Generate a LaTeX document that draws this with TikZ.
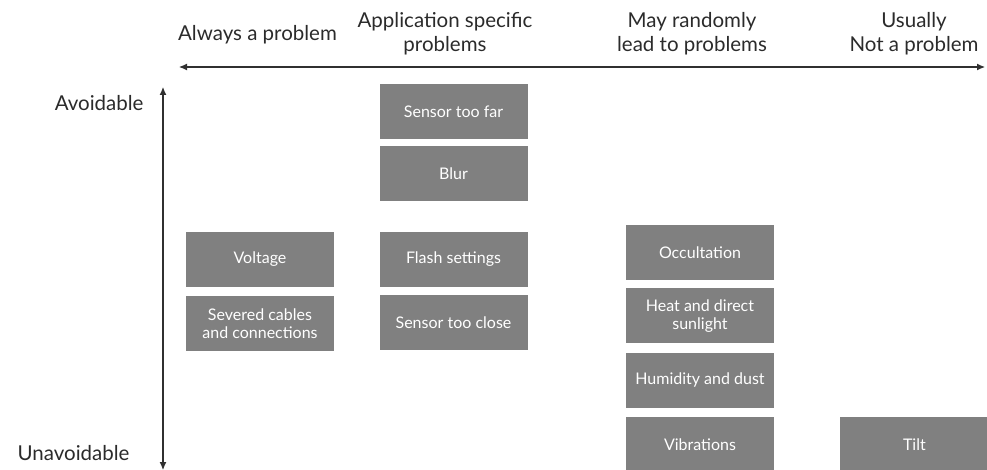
\documentclass[tikz,border=0pt]{standalone}
\usepackage{fontspec}
\setmainfont{Lato}
\usetikzlibrary{arrows.meta, positioning}
\definecolor{BoxGray}{HTML}{808080}
\definecolor{AxisGray}{HTML}{303030}
\definecolor{TextGray}{HTML}{2B2B2B}

\begin{document}
\begin{tikzpicture}[
    % scale: 1pt per pixel, y going down
    x=1pt, y=-1pt,
    node distance=8pt,
    % styles
    probbox/.style={
        rectangle,
        fill=BoxGray,
        draw=none,
        minimum width=148pt,
        minimum height=55pt,
        inner sep=2pt,
        text=white,
        align=center,
        font=\fontsize{16}{18}\selectfont
    },
    headtext/.style={text=TextGray, align=center, font=\fontsize{20.5}{24}\selectfont},
    sidetext/.style={text=TextGray, font=\fontsize{20.5}{24}\selectfont},
    axis/.style={AxisGray, line width=1.1pt, {Latex[length=8pt,width=7pt]}-{Latex[length=8pt,width=7pt]}}
]
    \useasboundingbox (0,0) rectangle (987,470);

    % ====== 1. Axes ======
    \coordinate (left) at (179,67);
    \coordinate (right) at (985,67);
    \coordinate (top) at (163,87);
    \coordinate (bottom) at (163,470);
    \draw[axis] (left) -- (right);
    \draw[axis] (top) -- (bottom);

    % top labels
    \node[headtext] (always) at (257.5,35) {Always a problem};
    \node[headtext] (appl) at (445,34) {Application specific\\problems};
    \node[headtext] (random) at (692,34) {May randomly\\lead to problems};
    \node[headtext] (usually) at (914,34) {Usually\\Not a problem};

    % side labels
    \node[sidetext, anchor=east] (avoid) at (147,103) {Avoidable};
    \node[sidetext, anchor=east] (unavoid) at (133,453) {Unavoidable};

    % ====== 2. Always a problem ======
    \node[probbox] (volt) at (260,259.5) {Voltage};
    \node[probbox] (cables) [below=9pt of volt] {Severed cables\\and connections};

    % ====== 3. Application specific ======
    \node[probbox] (far) at (453.5,112) {Sensor too far};
    \node[probbox] (blur) [below=6pt of far] {Blur};
    \node[probbox] (flash) at (453.5,259.5) {Flash settings};
    \node[probbox] (close) [below=8pt of flash] {Sensor too close};

    % ====== 4. May randomly ======
    \node[probbox] (occ) at (700,252.5) {Occultation};
    \node[probbox] (heat) [below=8pt of occ] {Heat and direct\\sunlight};
    \node[probbox] (humid) [below=9pt of heat] {Humidity and dust};
    \node[probbox] (vib) [below=9pt of humid] {Vibrations};

    % ====== 5. Usually not a problem ======
    \node[probbox] (tilt) [right=66pt of vib] {Tilt};

\end{tikzpicture}
\end{document}
